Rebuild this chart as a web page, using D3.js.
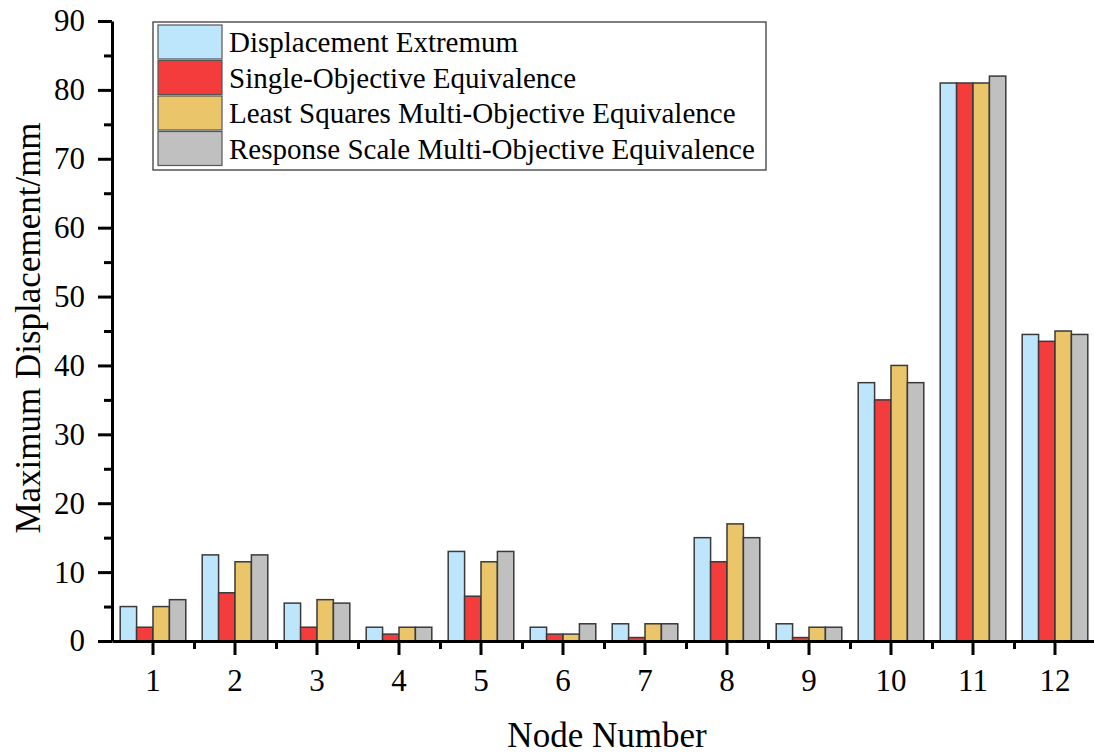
<!DOCTYPE html>
<html>
<head>
<meta charset="utf-8">
<script src="https://cdn.jsdelivr.net/npm/d3@7"></script>
<style>
  body { margin: 0; background: #fff; }
  text { font-family: "Liberation Serif", "Times New Roman", serif; fill: #000; }
</style>
</head>
<body>
<svg width="1094" height="755"></svg>
<script>
var nodes = ["1","2","3","4","5","6","7","8","9","10","11","12"];
var seriesNames = ["Displacement Extremum", "Single-Objective Equivalence",
  "Least Squares Multi-Objective Equivalence", "Response Scale Multi-Objective Equivalence"];
var extremum   = [5, 12.5, 5.5, 2, 13, 2, 2.5, 15, 2.5, 37.5, 81, 44.5];
var singleObj  = [2, 7, 2, 1, 6.5, 1, 0.5, 11.5, 0.5, 35, 81, 43.5];
var leastSq    = [5, 11.5, 6, 2, 11.5, 1, 2.5, 17, 2, 40, 81, 45];
var respScale  = [6, 12.5, 5.5, 2, 13, 2.5, 2.5, 15, 2, 37.5, 82, 44.5];
var yTicks = [0, 10, 20, 30, 40, 50, 60, 70, 80, 90];

var colors = ["#bde5fb", "#f53c3c", "#ebc56a", "#c0c0c0"];
var allSeries = [extremum, singleObj, leastSq, respScale];

var svg = d3.select('svg');
var mLeft = 112, mRight = 1096, mTop = 21, mBottom = 641;

var x0 = d3.scaleBand().domain(nodes).range([mLeft, mRight]).paddingInner(0.2).paddingOuter(0.1);
var x1 = d3.scaleBand().domain(d3.range(4)).range([0, x0.bandwidth()]);
var y = d3.scaleLinear().domain([0, 90]).range([mBottom, mTop]);

// bars
var groups = svg.append('g').selectAll('g')
  .data(nodes)
  .enter()
  .append('g')
  .attr('transform', function(d){ return 'translate(' + x0(d) + ',0)'; });

groups.selectAll('rect')
  .data(function(d, i){ return allSeries.map(function(s, k){ return {k: k, v: s[i]}; }); })
  .enter()
  .append('rect')
  .attr('x', function(d){ return x1(d.k); })
  .attr('width', x1.bandwidth())
  .attr('y', function(d){ return y(d.v); })
  .attr('height', function(d){ return y(0) - y(d.v); })
  .attr('fill', function(d){ return colors[d.k]; })
  .attr('stroke', '#3a3a3a')
  .attr('stroke-width', 1.5);

// y axis
var yAxis = svg.append('g')
  .attr('transform', 'translate(' + mLeft + ',0)')
  .call(d3.axisLeft(y).tickValues(yTicks).tickSize(14).tickPadding(13).tickSizeOuter(0));
yAxis.selectAll('text').style('font-size', '31px');
svg.append('g')
  .attr('transform', 'translate(' + mLeft + ',0)')
  .call(d3.axisLeft(y).tickValues(d3.range(5, 90, 10)).tickSize(8).tickFormat(''))
  .select('.domain').remove();

// x axis
var xAxis = svg.append('g')
  .attr('transform', 'translate(0,' + mBottom + ')')
  .call(d3.axisBottom(x0).tickSize(14).tickPadding(14).tickSizeOuter(0));
xAxis.selectAll('text').style('font-size', '31px');
var xMinor = d3.scaleLinear().domain([0, 12]).range([mLeft, mRight]);
svg.append('g')
  .attr('transform', 'translate(0,' + mBottom + ')')
  .call(d3.axisBottom(xMinor).tickValues(d3.range(1, 12)).tickSize(8).tickFormat(''))
  .select('.domain').remove();

svg.selectAll('.domain').attr('stroke-width', 3).attr('stroke', '#000');
svg.selectAll('.tick line').attr('stroke-width', 3).attr('stroke', '#000');

// axis titles
svg.append('text')
  .attr('x', 607)
  .attr('y', 747)
  .attr('text-anchor', 'middle')
  .style('font-size', '35px')
  .text('Node Number');

svg.append('text')
  .attr('transform', 'translate(40,328) rotate(-90)')
  .attr('text-anchor', 'middle')
  .style('font-size', '35px')
  .text('Maximum Displacement/mm');

// legend
var legend = svg.append('g').attr('transform', 'translate(153,22)');
legend.append('rect')
  .attr('width', 613).attr('height', 148)
  .attr('fill', '#fff').attr('stroke', '#555').attr('stroke-width', 1.5);
var items = legend.selectAll('.item')
  .data(seriesNames)
  .enter()
  .append('g')
  .attr('class', 'item')
  .attr('transform', function(d, i){ return 'translate(5,' + (3 + i * 35.5) + ')'; });
items.append('rect')
  .attr('width', 64).attr('height', 34)
  .attr('fill', function(d, i){ return colors[i]; })
  .attr('stroke', '#555').attr('stroke-width', 1.2);
items.append('text')
  .attr('x', 71).attr('y', 27)
  .style('font-size', '29px')
  .text(function(d){ return d; });
</script>
</body>
</html>
